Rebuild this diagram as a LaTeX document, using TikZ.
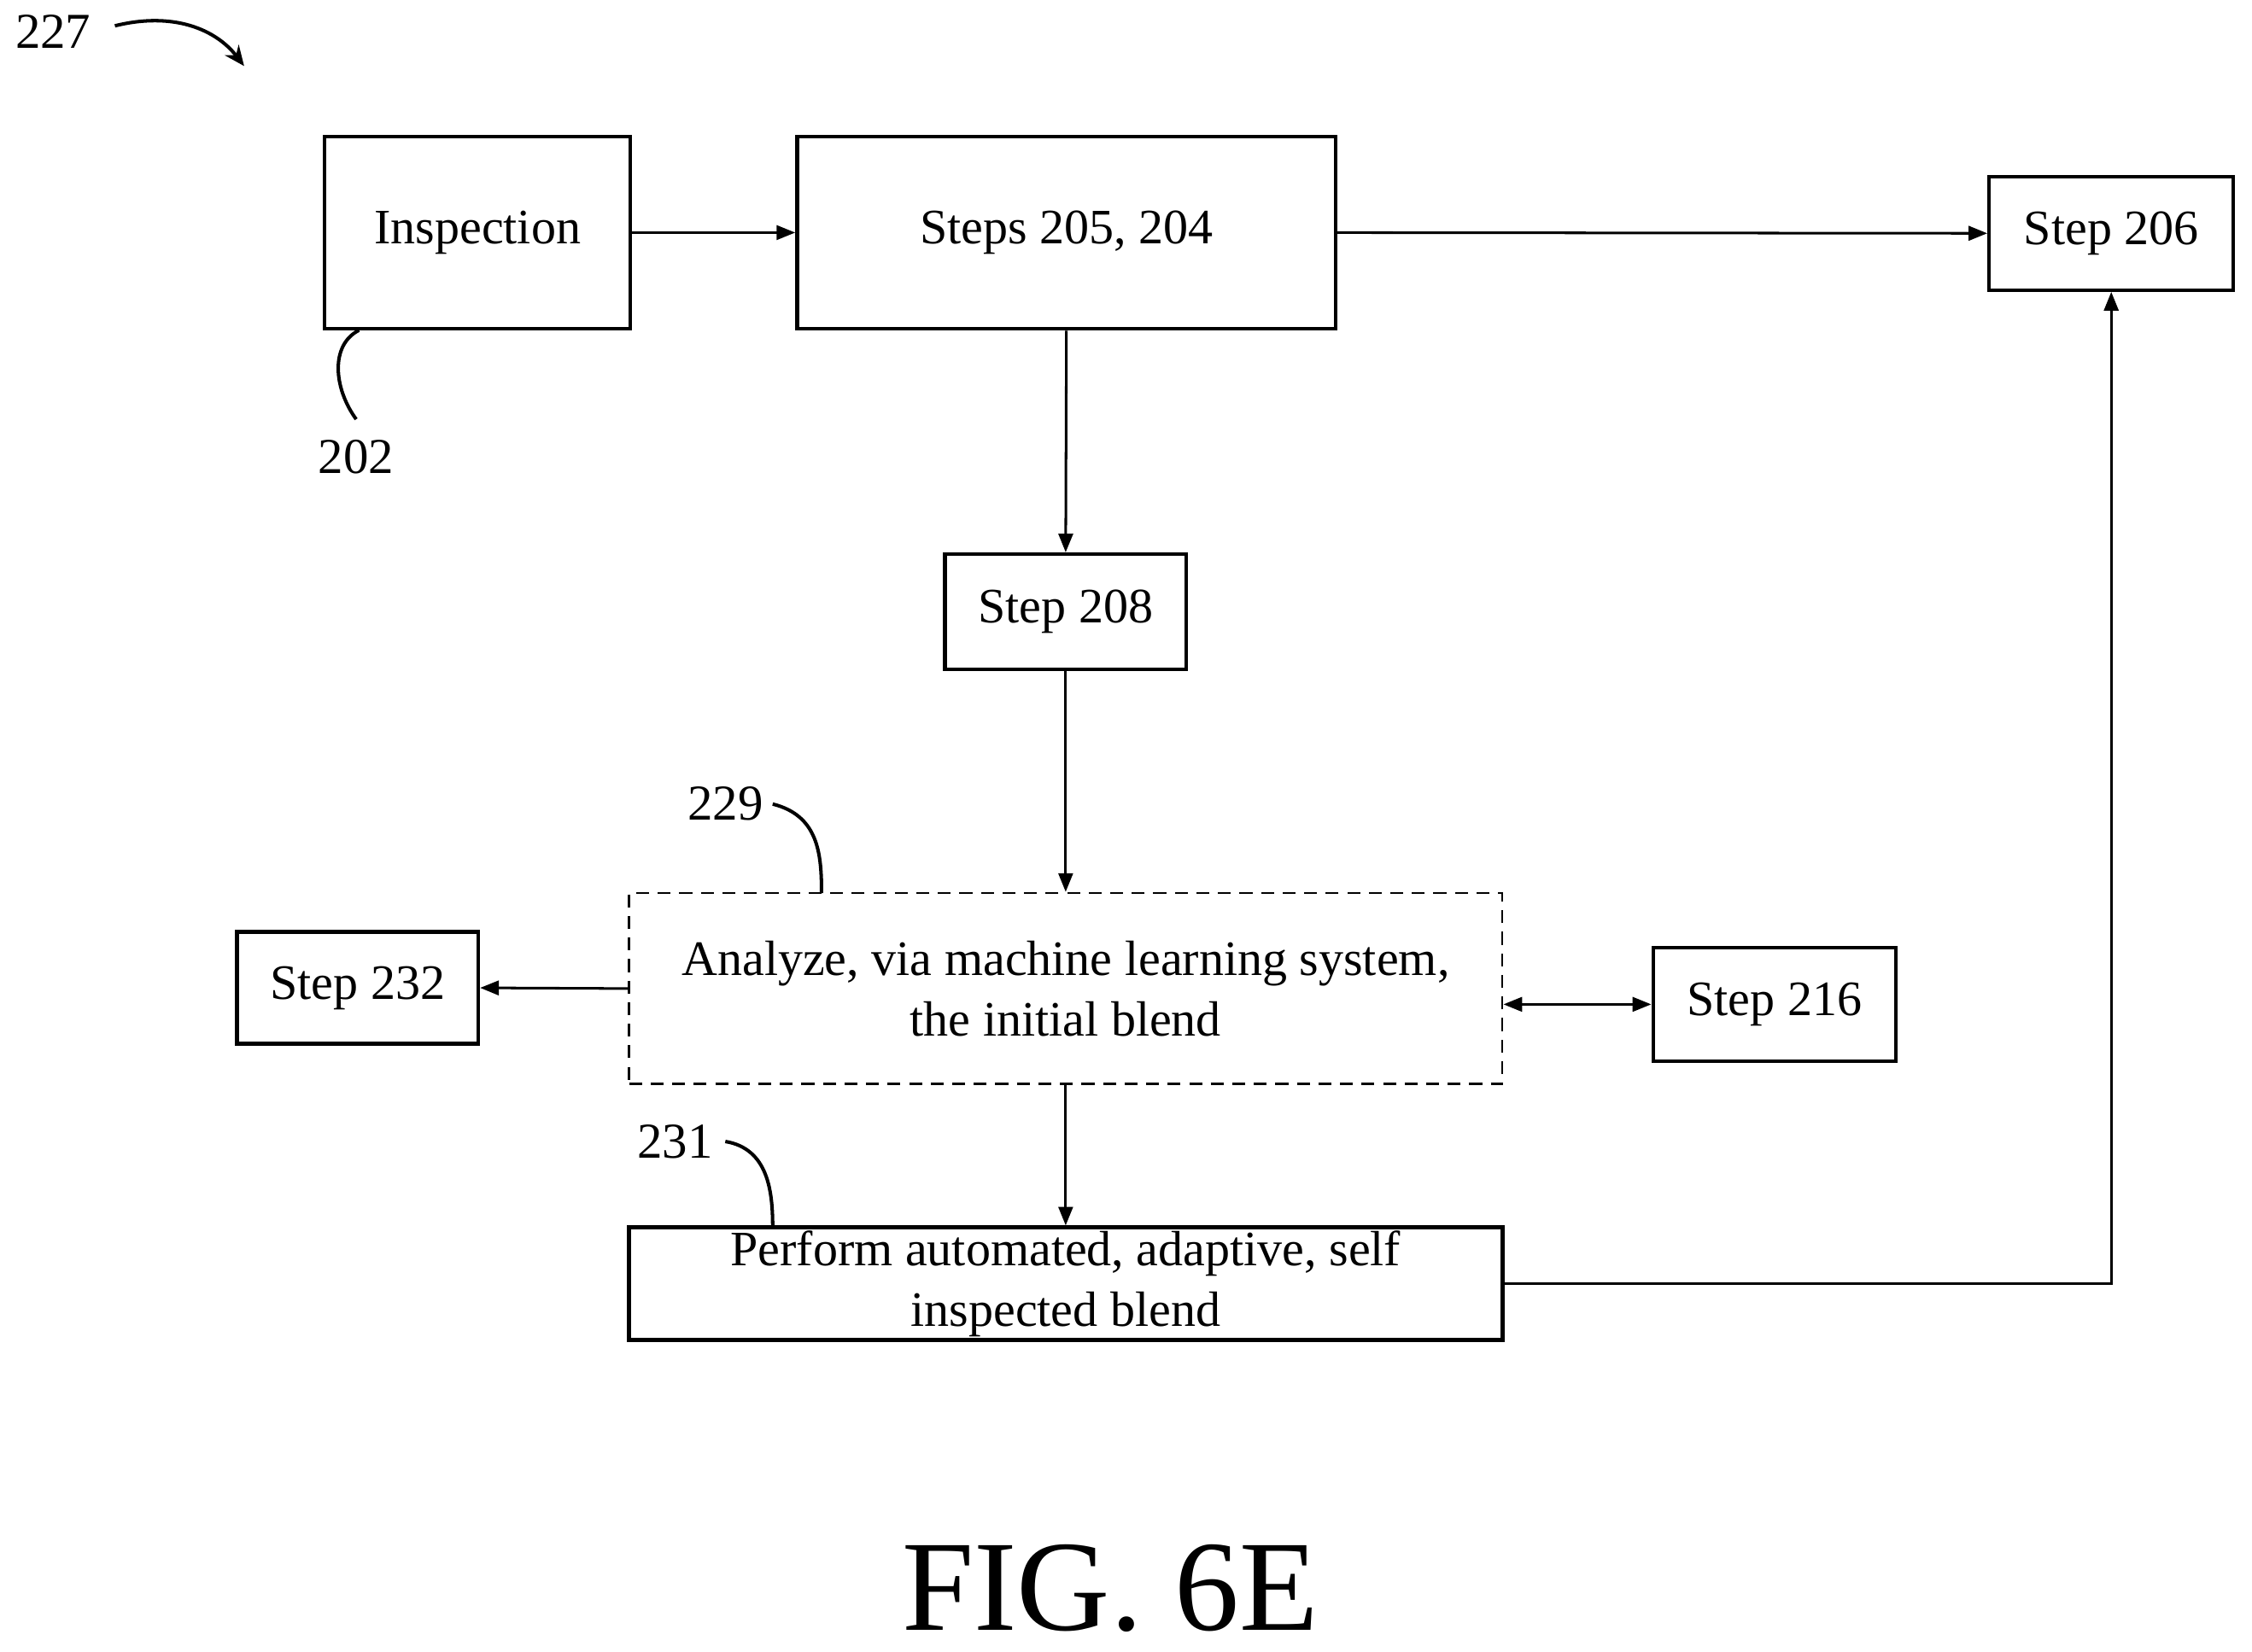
\documentclass[tikz,border=0pt]{standalone}
\usepackage{fontspec}
\setmainfont{Liberation Serif}
\usetikzlibrary{arrows.meta}
\begin{document}
\begin{tikzpicture}[x=1pt,y=-1pt,
 box/.style={draw,line width=2.6pt,inner sep=0pt,font=\fontsize{34.5}{42}\selectfont,align=center},
 arr/.style={line width=1.8pt,-{Triangle[length=13pt,width=10pt]}},
 lbl/.style={font=\fontsize{35}{40}\selectfont},
 sq/.style={line width=2.4pt}]
\useasboundingbox (0,0) rectangle (1568,1150);
\node[box,minimum width=213pt,minimum height=134pt] (insp) at (332.5,162) {Inspection};
\node[box,minimum width=375pt,minimum height=134pt] (s205) at (742.5,162) {Steps 205, 204};
\node[box,minimum width=170pt,minimum height=79pt] (s206) at (1470,162.5) {Step 206};
\node[box,minimum width=168pt,minimum height=80pt] (s208) at (742,426) {Step 208};
\node[box,line width=1.6pt,dash pattern=on 9pt off 6pt,minimum width=608pt,minimum height=133pt] (ana) at (742,688.5) {Analyze, via machine learning system,\\the initial blend};
\node[box,minimum width=168pt,minimum height=78pt] (s232) at (249,688) {Step 232};
\node[box,minimum width=169pt,minimum height=79pt] (s216) at (1235.5,699.5) {Step 216};
\node[box,line width=3pt,minimum width=608pt,minimum height=78pt] (perf) at (742,894) {Perform automated, adaptive, self\\inspected blend};
\draw[arr] (insp.east) -- (s205.west);
\draw[arr] (s205.east) -- (s206.west);
\draw[arr] (s205.south) -- (s208.north);
\draw[arr] (s208.south) -- (ana.north);
\draw[arr] (ana.west) -- (s232.east);
\draw[arr,{Triangle[length=13pt,width=10pt]}-{Triangle[length=13pt,width=10pt]}] (ana.east |- s216.west) -- (s216.west);
\draw[arr] (ana.south) -- (perf.north);
\draw[arr] (perf.east) -- (1470,894) -- (s206.south);
\node[lbl] (l227) at (37,22) {227};
\coordinate (a1) at (80,18); \coordinate (a2) at (170,46);
\draw[sq,-{Stealth[length=14pt,width=12pt]}] (a1) .. controls (120,8) and (150,20) .. (a2);
\node[lbl] (l202) at (248,318) {202};
\coordinate (b1) at (250,230); \coordinate (b2) at (248,292);
\draw[sq] (b1) .. controls (230,240) and (232,270) .. (b2);
\node[lbl] (l229) at (505,560) {229};
\coordinate (c1) at (538,560); \coordinate (c2) at (572,622);
\draw[sq] (c1) .. controls (570,568) and (572,595) .. (c2);
\node[lbl] (l231) at (470,795) {231};
\coordinate (d1) at (505,795); \coordinate (d2) at (538,855);
\draw[sq] (d1) .. controls (535,800) and (538,830) .. (d2);
\node[font=\fontsize{90}{96}\selectfont,inner sep=0pt] (fig) at (773,1106) {FIG. 6E};
\end{tikzpicture}
\end{document}
